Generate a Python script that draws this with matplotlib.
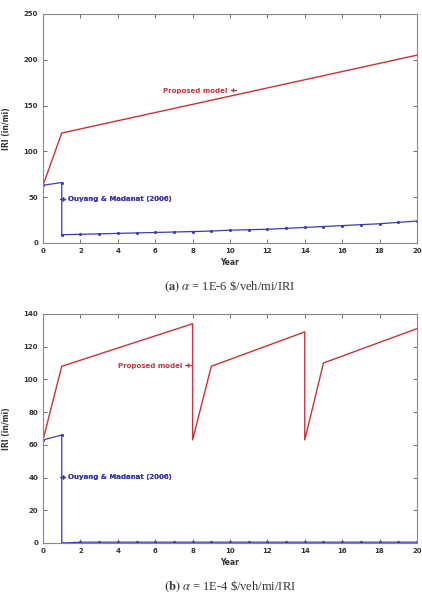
import numpy as np
import matplotlib
matplotlib.use('Agg')
import matplotlib.pyplot as plt
from matplotlib.lines import Line2D

plt.rcParams['mathtext.fontset'] = 'stix'

# (a) alpha = 1E-6
years_a = [0, 1, 1, 20]
iri_prop_a = [63, 120, 120, 205]
years_ou = [0, 1, 1] + list(range(2, 21))
iri_ou_a = [63, 66, 9, 9.5, 10, 10.5, 11, 11.5, 12, 12.5, 13, 14, 14.5, 15,
            16, 17, 18, 19, 20, 21, 22.5, 24]

# (b) alpha = 1E-4
years_b = [0, 1, 8, 8, 9, 14, 14, 15, 20]
iri_prop_b = [63, 108, 134, 63, 108, 129, 63, 110, 131]
iri_ou_b = [63, 66, 0] + [0.5] * 19

red = '#c8323c'
blue = '#3c3cb4'
axcol = '#555555'

fig = plt.figure(figsize=(4.22, 5.95), dpi=100)


def setup(ax, ymax, ystep, alpha_txt, letter):
    ax.set_xlim(0, 20)
    ax.set_ylim(0, ymax)
    ax.set_xticks(np.arange(0, 21, 2))
    ax.set_yticks(np.arange(0, ymax + 1, ystep))
    ax.tick_params(direction='in', length=3, width=0.6, labelsize=5,
                   top=True, right=True, colors=axcol, labelcolor='#333333')
    for s in ax.spines.values():
        s.set_color('#888888')
        s.set_linewidth(0.8)
    for lab in ax.get_xticklabels() + ax.get_yticklabels():
        lab.set_fontweight('bold')
    ax.set_xlabel('Year', fontsize=5.5, fontweight='bold', color='#333333', labelpad=3)
    ax.set_ylabel('IRI (in/mi)', fontsize=5.5, fontweight='bold', color='#333333', labelpad=9)
    # caption below each panel
    ax.text(0.5, -0.19, r'$\mathbf{(' + letter + r')}$ $\alpha$ = ' + alpha_txt
            + r' \$/veh/mi/IRI', transform=ax.transAxes, ha='center', va='center',
            fontsize=9, family='Liberation Serif', color='#333333')


def label(ax, text, color, marker, x, y, markerfirst):
    h = Line2D([], [], color=color, marker=marker, markersize=2.5, lw=0.8)
    leg = ax.legend([h], [text], loc='center left', bbox_to_anchor=(x, y),
                    frameon=False, handlelength=0.8, handletextpad=0.4,
                    borderpad=0, borderaxespad=0, markerfirst=markerfirst,
                    prop={'size': 5, 'weight': 'bold'})
    for t in leg.get_texts():
        t.set_color(color)
    ax.add_artist(leg)


# top panel
ax1 = fig.add_axes([0.102, 0.5916, 0.886, 0.385])
ax1.plot(years_a, iri_prop_a, color=red, lw=1)
ax1.plot(years_ou, iri_ou_a, color=blue, lw=0.9, marker='.', markersize=2.5)
setup(ax1, 250, 50, '1E-6', 'a')
label(ax1, 'Proposed model', red, '+', 0.322, 0.664, False)
label(ax1, 'Ouyang & Madanat (2006)', blue, '+', 0.045, 0.192, True)

# bottom panel
ax2 = fig.add_axes([0.102, 0.0874, 0.886, 0.385])
ax2.plot(years_b, iri_prop_b, color=red, lw=1)
ax2.plot(years_ou, iri_ou_b, color=blue, lw=0.9, marker='.', markersize=2.5)
setup(ax2, 140, 20, '1E-4', 'b')
label(ax2, 'Proposed model', red, '+', 0.2, 0.773, False)
label(ax2, 'Ouyang & Madanat (2006)', blue, '+', 0.045, 0.288, True)

fig.savefig('out.png', dpi=100)
